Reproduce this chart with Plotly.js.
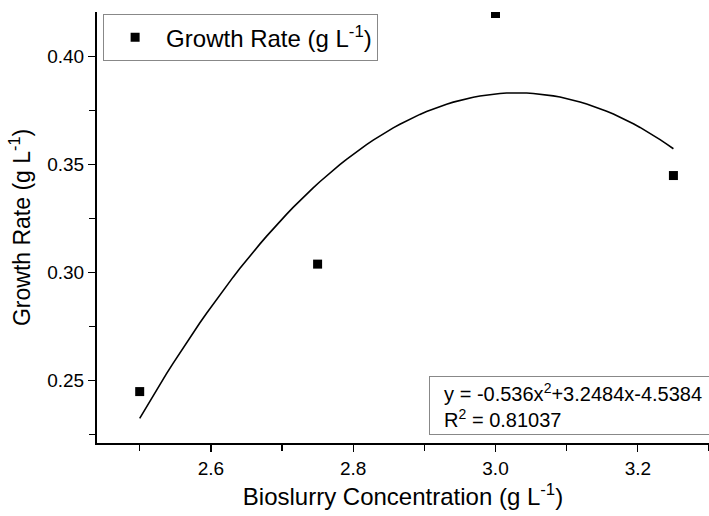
<!DOCTYPE html>
<html><head><meta charset="utf-8">
<script src="https://cdn.plot.ly/plotly-3.0.1.min.js"></script>
<style>html,body{margin:0;padding:0;background:#fff}#chart{width:709px;height:516px}</style>
</head><body><div id="chart"></div>
<script>
// Measured data
const concentration = [2.5, 2.75, 3.0, 3.25];
const growthRate = [0.245, 0.304, 0.420, 0.345];
// Quadratic fit coefficients as printed on the chart: y = a x^2 + b x + c
const fitCoef = [-0.536, 3.2484, -4.5384];
const fitRange = [2.5, 3.25];
const xTicks = [2.6, 2.8, 3.0, 3.2];
const yTicks = [0.25, 0.30, 0.35, 0.40];

const fitX = [], fitY = [];
const n = 80;
for (let i = 0; i <= n; i++) {
  const x = fitRange[0] + (fitRange[1] - fitRange[0]) * i / n;
  fitX.push(x);
  fitY.push(fitCoef[0] * x * x + fitCoef[1] * x + fitCoef[2]);
}

const font = 'Liberation Sans, Arial, sans-serif';
const data = [
  {x: fitX, y: fitY, mode: 'lines', line: {color: '#000', width: 1.6}, showlegend: false, hoverinfo: 'skip'},
  {x: concentration, y: growthRate, mode: 'markers', name: 'Growth Rate (g L<sup>-1</sup>)',
   marker: {symbol: 'square', size: 9, color: '#000'}}
];
const layout = {
  width: 709, height: 516,
  margin: {l: 97, r: 0, t: 12, b: 73},
  paper_bgcolor: '#fff', plot_bgcolor: '#fff',
  font: {family: font, color: '#000'},
  xaxis: {
    range: [2.44, 3.30], tickvals: xTicks, ticktext: xTicks.map(v => v.toFixed(1)),
    ticks: 'outside', ticklen: 7, tickwidth: 1.3, tickcolor: '#000',
    minor: {dtick: 0.2, tick0: 2.5, ticks: 'outside', ticklen: 6, tickwidth: 1.3, tickcolor: '#000'},
    showline: true, linecolor: '#000', linewidth: 2, showgrid: false, zeroline: false,
    tickfont: {size: 19, family: font},
    title: {text: 'Bioslurry Concentration (g L<sup>-1</sup>)', font: {size: 24, family: font}, standoff: 10}
  },
  yaxis: {
    range: [0.2212, 0.4207], tickvals: yTicks, ticktext: yTicks.map(v => v.toFixed(2)),
    ticks: 'outside', ticklen: 7, tickwidth: 1.3, tickcolor: '#000',
    minor: {dtick: 0.05, tick0: 0.225, ticks: 'outside', ticklen: 6, tickwidth: 1.3, tickcolor: '#000'},
    showline: true, linecolor: '#000', linewidth: 2, showgrid: false, zeroline: false,
    tickfont: {size: 19, family: font},
    title: {text: 'Growth Rate (g L<sup>-1</sup>)', font: {size: 23, family: font}, standoff: 10}
  },
  legend: {x: 0.01, y: 0.995, xanchor: 'left', yanchor: 'top', bordercolor: '#888', borderwidth: 1,
    bgcolor: '#fff', font: {size: 24, family: font}, itemwidth: 52, tracegroupgap: 0},
  annotations: [{
    xref: 'paper', yref: 'paper', x: (429 - 97) / 612, y: (443 - 376) / 431,
    xanchor: 'left', yanchor: 'top', align: 'left', showarrow: false,
    text: '&nbsp;&nbsp;y = -0.536x<sup>2</sup>+3.2484x-4.5384<br>&nbsp;&nbsp;R<sup>2</sup> = 0.81037',
    font: {size: 20, family: font, color: '#000'}, width: 300,
    bordercolor: '#888', borderwidth: 1, borderpad: 3, bgcolor: '#fff'
  }]
};
Plotly.newPlot('chart', data, layout, {displayModeBar: false, staticPlot: true});
</script></body></html>
